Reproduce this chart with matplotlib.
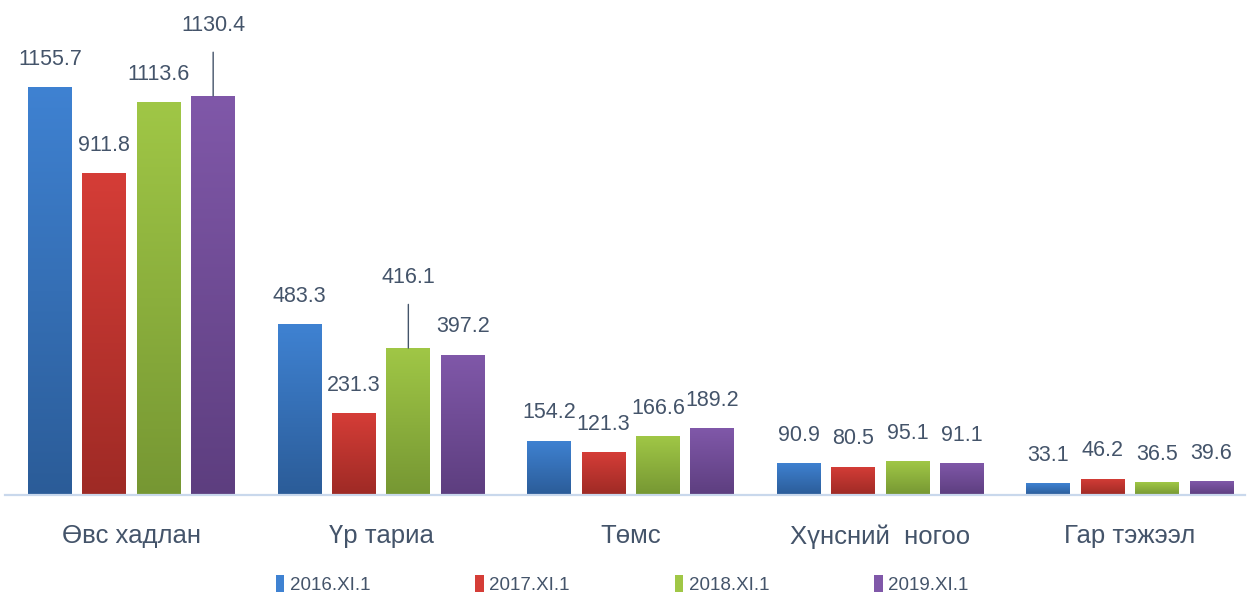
import matplotlib.pyplot as plt
import numpy as np
from matplotlib.patches import Rectangle
from matplotlib.colors import LinearSegmentedColormap

plt.rcParams['font.family'] = ['Liberation Sans', 'DejaVu Sans']

# data
categories = ['Өвс хадлан', 'Үр тариа', 'Төмс', 'Хүнсний  ногоо', 'Гар тэжээл']
series = ['2016.XI.1', '2017.XI.1', '2018.XI.1', '2019.XI.1']
v2016 = [1155.7, 483.3, 154.2, 90.9, 33.1]
v2017 = [911.8, 231.3, 121.3, 80.5, 46.2]
v2018 = [1113.6, 416.1, 166.6, 95.1, 36.5]
v2019 = [1130.4, 397.2, 189.2, 91.1, 39.6]
values = [v2016, v2017, v2018, v2019]

# (top colour, bottom colour) for each series
shades = [('#3f82d2', '#2b5c98'), ('#d53d37', '#9e2a25'),
          ('#a0c746', '#769733'), ('#8058a9', '#5d3e7f')]
text_col = '#44546a'

# labels that are lifted and tied to their bar with a line
lifted = {(3, 0), (2, 1)}

fig = plt.figure(figsize=(12.52, 6.04), dpi=100)
ax = fig.add_axes([5 / 1252, 0.1805, 1240 / 1252, 0.8195])

width = 0.176
step = 0.218
x = np.arange(len(categories))

for i, (vals, (c_top, c_bot)) in enumerate(zip(values, shades)):
    cmap = LinearSegmentedColormap.from_list('g%d' % i, [c_bot, c_top])
    pos = x + (i - 1.5) * step
    bars = ax.bar(pos, vals, width, color=c_top, edgecolor='none')
    for j, b in enumerate(bars):
        bx, by = b.get_x(), b.get_y()
        bw, bh = b.get_width(), b.get_height()
        grad = np.linspace(0, 1, 256).reshape(-1, 1)
        im = ax.imshow(grad, cmap=cmap, origin='lower', aspect='auto',
                       extent=(bx, bx + bw, by, by + bh), zorder=2)
        im.set_clip_path(b)
        b.set_facecolor('none')
        cx = bx + bw / 2
        if (i, j) in lifted:
            ax.annotate(f'{vals[j]:.1f}', xy=(cx, vals[j]), xytext=(0, 51),
                        textcoords='offset points', ha='center', va='center',
                        fontsize=15.5, color=text_col,
                        arrowprops=dict(arrowstyle='-', color=text_col, lw=1,
                                        shrinkA=10, shrinkB=0))
        else:
            ax.annotate(f'{vals[j]:.1f}', xy=(cx, vals[j]), xytext=(0, 20),
                        textcoords='offset points', ha='center', va='center',
                        fontsize=15.5, color=text_col)

ax.set_xlim(-0.507, 4.461)
ax.set_ylim(0, 1402)
for s in ['top', 'right', 'left']:
    ax.spines[s].set_visible(False)
ax.spines['bottom'].set_color('#c9d8ec')
ax.spines['bottom'].set_linewidth(1.6)
ax.set_yticks([])
ax.set_xticks(x)
ax.set_xticklabels(categories, fontsize=18.5, color=text_col)
ax.tick_params(axis='x', length=0, pad=21)

handles = [Rectangle((0, 0), 1, 1, facecolor=c_top, edgecolor='none') for c_top, _ in shades]
fig.legend(handles, series, loc='center', bbox_to_anchor=(0.497, 0.032), ncol=4,
           frameon=False, fontsize=13.5, labelcolor=text_col,
           handlelength=0.45, handleheight=1.0, handletextpad=0.3,
           columnspacing=5.6)

fig.savefig('out.png', dpi=100)
